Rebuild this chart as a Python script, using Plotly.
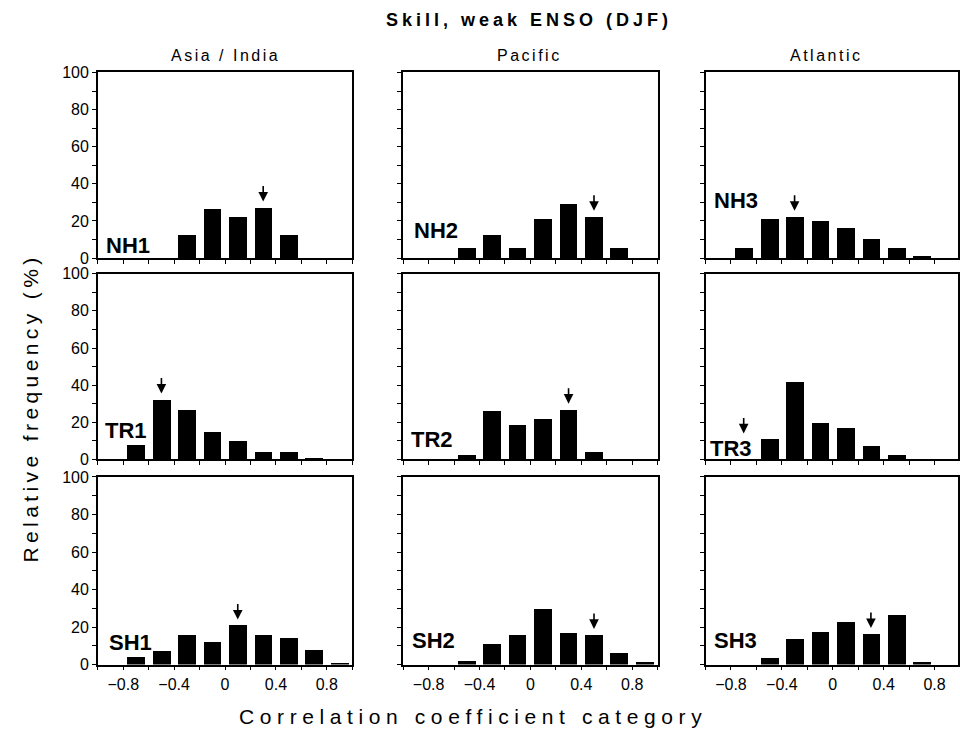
import plotly.graph_objects as go

# ---------------- data ----------------
categories = [-0.9, -0.7, -0.5, -0.3, -0.1, 0.1, 0.3, 0.5, 0.7, 0.9]

nh1 = [0, 0, 0, 12, 26, 22, 27, 12, 0, 0]
nh2 = [0, 0, 5, 12, 5, 21, 29, 22, 5, 0]
nh3 = [0, 5, 21, 22, 20, 16, 10, 5, 1, 0]
tr1 = [0, 8, 32, 27, 15, 10, 4, 4, 1, 0]
tr2 = [0, 0, 2.5, 26, 18.5, 22, 27, 4, 0, 0]
tr3 = [0, 0, 11, 42, 19.5, 17, 7.5, 2.3, 0, 0]
sh1 = [0, 4, 7, 16, 12, 21, 16, 14, 8, 1]
sh2 = [0, 0, 2, 11, 16, 29.5, 17, 16, 6, 1.5]
sh3 = [0, 0, 3.7, 13.6, 17.3, 22.5, 16.3, 26.2, 1.4, 0]

panel_names = ["NH1", "NH2", "NH3", "TR1", "TR2", "TR3", "SH1", "SH2", "SH3"]
series = [nh1, nh2, nh3, tr1, tr2, tr3, sh1, sh2, sh3]

# arrow marks (category, tip height in %)
arrow_x = [0.3, 0.5, -0.3, -0.5, 0.3, -0.7, 0.1, 0.5, 0.3]
arrow_y = [30.5, 25.5, 25.5, 35.5, 30, 14, 24, 19, 19.5]

column_titles = ["Asia / India", "Pacific", "Atlantic"]
x_tickvals = [-1.0, -0.8, -0.6, -0.4, -0.2, 0.0, 0.2, 0.4, 0.6, 0.8, 1.0]
x_ticktext = ["", "\u22120.8", "", "\u22120.4", "", "0", "", "0.4", "", "0.8", ""]
y_tickvals = [0, 10, 20, 30, 40, 50, 60, 70, 80, 90, 100]
y_ticktext = ["0", "", "20", "", "40", "", "60", "", "80", "", "100"]

# ---------------- layout geometry (pixels) ----------------
W, H = 960, 740
col_px = [(98, 353), (404, 659), (707, 962)]
row_px = [(66, 256), (272, 462), (480, 672)]

# panel label positions in data coords (x left edge, y middle)
label_pos = [(-0.955, 7), (-0.93, 15), (-0.947, 31),
             (-0.963, 15.5), (-0.953, 10.5), (-0.984, 6),
             (-0.93, 12), (-0.945, 13), (-0.95, 13)]

FONT = "Liberation Sans, Arial, Helvetica, sans-serif"

fig = go.Figure()
layout = {}
annotations = []

for i in range(9):
    r, c = divmod(i, 3)
    idx = "" if i == 0 else str(i + 1)
    xa, ya = "x" + idx, "y" + idx
    fig.add_trace(go.Bar(
        x=categories, y=series[i], xaxis=xa, yaxis=ya,
        width=0.14, marker=dict(color="black", line=dict(width=0)),
        showlegend=False, hoverinfo="x+y"))

    x0, x1 = col_px[c]
    y0, y1 = row_px[r]
    rng_hi = -1 + 2.0 * (min(x1, W) - x0) / (x1 - x0)
    layout["xaxis" + idx] = dict(
        domain=[x0 / W, min(x1, W) / W], anchor=ya,
        range=[-1.0, rng_hi],
        tickmode="array", tickvals=x_tickvals,
        ticktext=x_ticktext if r == 2 else [""] * len(x_tickvals),
        ticks="outside", ticklen=4, tickwidth=1, tickcolor="black",
        showline=True, linecolor="black", linewidth=1.5, mirror=True,
        showgrid=False, zeroline=False, fixedrange=True,
        tickfont=dict(family=FONT, size=16, color="black"))
    layout["yaxis" + idx] = dict(
        domain=[1 - y1 / H, 1 - y0 / H], anchor=xa,
        range=[0, 100],
        tickmode="array", tickvals=y_tickvals,
        ticktext=y_ticktext if c == 0 else [""] * len(y_tickvals),
        ticks="outside", ticklen=4, tickwidth=1, tickcolor="black",
        showline=True, linecolor="black", linewidth=1.5, mirror=True,
        showgrid=False, zeroline=False, fixedrange=True,
        tickfont=dict(family=FONT, size=16, color="black"))

    lx, ly = label_pos[i]
    annotations.append(dict(
        text="<b>" + panel_names[i] + "</b>", x=lx, y=ly, xref=xa, yref=ya,
        xanchor="left", yanchor="middle", showarrow=False,
        font=dict(family=FONT, size=22, color="black")))
    annotations.append(dict(
        text="", x=arrow_x[i], y=arrow_y[i], xref=xa, yref=ya,
        showarrow=True, ax=0, ay=-17, arrowhead=2, arrowsize=1.2,
        arrowwidth=1.6, arrowcolor="black"))

col_centers = [226, 531, 828]
for c in range(3):
    annotations.append(dict(
        text='<span style="letter-spacing:2.5px">' + column_titles[c] + "</span>",
        x=col_centers[c] / W, y=1 - 49 / H, xref="paper", yref="paper",
        xanchor="center", yanchor="middle", showarrow=False,
        font=dict(family=FONT, size=16, color="black")))

annotations.append(dict(
    text='<b><span style="letter-spacing:4px">Skill, weak ENSO (DJF)</span></b>',
    x=530 / W, y=1 - 12 / H, xref="paper", yref="paper",
    xanchor="center", yanchor="middle", showarrow=False,
    font=dict(family=FONT, size=18, color="black")))
annotations.append(dict(
    text='<span style="letter-spacing:5.6px">Correlation coefficient category</span>',
    x=474 / W, y=1 - 725 / H, xref="paper", yref="paper",
    xanchor="center", yanchor="middle", showarrow=False,
    font=dict(family=FONT, size=21, color="black")))
annotations.append(dict(
    text='<span style="letter-spacing:4.4px">Relative frequency (%)</span>',
    x=31 / W, y=1 - 409 / H, xref="paper", yref="paper",
    xanchor="center", yanchor="middle", showarrow=False, textangle=-90,
    font=dict(family=FONT, size=21, color="black")))

fig.update_layout(
    width=W, height=H,
    margin=dict(l=0, r=0, t=0, b=0),
    paper_bgcolor="white", plot_bgcolor="white",
    annotations=annotations,
    bargap=0,
    **layout)

place_js = (
    "document.documentElement.style.margin='0';"
    "document.documentElement.style.overflow='hidden';"
    "document.body.style.margin='0';"
    "document.body.style.overflow='hidden';"
    "var gd=document.getElementById('{plot_id}');"
    "gd.style.position='absolute';gd.style.left='0px';gd.style.top='0px';"
)

fig.write_html("out.html", config={"displayModeBar": False}, post_script=place_js)
